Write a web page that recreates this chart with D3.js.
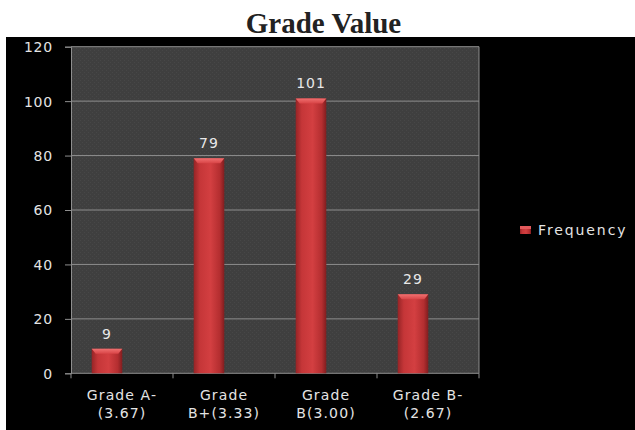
<!DOCTYPE html>
<html>
<head>
<meta charset="utf-8">
<script src="https://cdn.jsdelivr.net/npm/d3@7"></script>
<style>
  body { margin: 0; background: #fff; }
  svg text { font-family: "DejaVu Sans", Verdana, sans-serif; }
</style>
</head>
<body>
<div id="chart"></div>
<script>
// data
const categories = [["Grade A-", "(3.67)"], ["Grade", "B+(3.33)"], ["Grade", "B(3.00)"], ["Grade B-", "(2.67)"]];
const frequency = [9, 79, 101, 29];
const yTicks = [0, 20, 40, 60, 80, 100, 120];
const seriesName = "Frequency";

const width = 635, height = 430;
const margin = { top: 46.7, left: 71, right: 479, bottom: 373.3 };

const svg = d3.select("#chart").append("svg")
    .attr("width", width)
    .attr("height", height);

const defs = svg.append("defs");

// texture of the plot area
const pat = defs.append("pattern")
    .attr("id", "tex").attr("width", 4).attr("height", 4)
    .attr("patternUnits", "userSpaceOnUse");
pat.append("rect").attr("width", 4).attr("height", 4).attr("fill", "#3f3f3f");
pat.append("rect").attr("x", 0).attr("y", 0).attr("width", 1).attr("height", 1).attr("fill", "#474747");
pat.append("rect").attr("x", 2).attr("y", 2).attr("width", 1).attr("height", 1).attr("fill", "#474747");

// bar gradient
const grad = defs.append("linearGradient").attr("id", "barGrad")
    .attr("x1", "0%").attr("x2", "100%").attr("y1", "0%").attr("y2", "0%");
grad.append("stop").attr("offset", "0%").attr("stop-color", "#962426");
grad.append("stop").attr("offset", "20%").attr("stop-color", "#c53638");
grad.append("stop").attr("offset", "55%").attr("stop-color", "#d33f41");
grad.append("stop").attr("offset", "85%").attr("stop-color", "#b42e30");
grad.append("stop").attr("offset", "100%").attr("stop-color", "#801d1f");

const capGrad = defs.append("linearGradient").attr("id", "capGrad")
    .attr("x1", "0%").attr("x2", "0%").attr("y1", "0%").attr("y2", "100%");
capGrad.append("stop").attr("offset", "0%").attr("stop-color", "#f07070");
capGrad.append("stop").attr("offset", "100%").attr("stop-color", "#d84446");

// title
svg.append("text")
    .attr("x", 323.5).attr("y", 33)
    .attr("text-anchor", "middle")
    .style("font-family", "'Liberation Serif', 'Times New Roman', serif")
    .style("font-weight", "bold")
    .style("font-size", "29px")
    .attr("fill", "#222")
    .text("Grade Value");

// black chart background
svg.append("rect")
    .attr("x", 6).attr("y", 37)
    .attr("width", width - 6).attr("height", height - 37)
    .attr("fill", "#000");

// scales
const x = d3.scaleBand()
    .domain(d3.range(categories.length))
    .range([margin.left, margin.right])
    .paddingInner(0.7).paddingOuter(0.35);

const y = d3.scaleLinear()
    .domain([0, 120])
    .range([margin.bottom, margin.top]);

// plot area
svg.append("rect")
    .attr("x", margin.left).attr("y", margin.top)
    .attr("width", margin.right - margin.left)
    .attr("height", margin.bottom - margin.top)
    .attr("fill", "url(#tex)");

// gridlines
svg.append("g")
    .selectAll("line")
    .data(yTicks.filter(d => d > 0))
    .join("line")
    .attr("x1", margin.left).attr("x2", margin.right)
    .attr("y1", d => y(d)).attr("y2", d => y(d))
    .attr("stroke", "#8e8e8e").attr("stroke-width", 1);

// right border
svg.append("line")
    .attr("x1", margin.right).attr("x2", margin.right)
    .attr("y1", margin.top).attr("y2", margin.bottom)
    .attr("stroke", "#8e8e8e");

// y axis
const yAxis = svg.append("g")
    .attr("transform", `translate(${margin.left},0)`)
    .call(d3.axisLeft(y).tickValues(yTicks).tickSize(6).tickPadding(12));
yAxis.select(".domain").attr("stroke", "#8e8e8e");
yAxis.selectAll(".tick line").attr("stroke", "#8e8e8e");
yAxis.selectAll("text")
    .attr("fill", "#e4e4e4")
    .style("font-size", "14px")
    .style("letter-spacing", "0.8px")
    .attr("dy", "0.35em");

// x axis
const xStep = (margin.right - margin.left) / categories.length;
const xAxisG = svg.append("g");
xAxisG.append("line")
    .attr("x1", margin.left).attr("x2", margin.right)
    .attr("y1", margin.bottom).attr("y2", margin.bottom)
    .attr("stroke", "#8e8e8e");
xAxisG.selectAll("line.tk")
    .data(d3.range(categories.length + 1))
    .join("line").attr("class", "tk")
    .attr("x1", d => margin.left + d * xStep).attr("x2", d => margin.left + d * xStep)
    .attr("y1", margin.bottom).attr("y2", margin.bottom + 5)
    .attr("stroke", "#8e8e8e");

const labels = xAxisG.selectAll("text")
    .data(categories)
    .join("text")
    .attr("x", (d, i) => x(i) + x.bandwidth() / 2)
    .attr("y", 400)
    .attr("text-anchor", "middle")
    .attr("fill", "#e4e4e4")
    .style("font-size", "14px")
    .style("letter-spacing", "1.1px");
labels.append("tspan")
    .attr("x", (d, i) => x(i) + x.bandwidth() / 2)
    .text(d => d[0]);
labels.append("tspan")
    .attr("x", (d, i) => x(i) + x.bandwidth() / 2)
    .attr("dy", 18)
    .text(d => d[1]);

// bars (3d depth shift to the left)
const depth = 15;
const bars = svg.append("g");
bars.selectAll("rect.bar")
    .data(frequency)
    .join("rect").attr("class", "bar")
    .attr("x", (d, i) => x(i) - depth)
    .attr("y", d => y(d))
    .attr("width", x.bandwidth())
    .attr("height", d => y(0) - y(d))
    .attr("fill", "url(#barGrad)");

// top bevel
bars.selectAll("path.cap")
    .data(frequency)
    .join("path").attr("class", "cap")
    .attr("d", (d, i) => {
        const x0 = x(i) - depth, w = x.bandwidth(), t = y(d);
        return `M${x0},${t} L${x0 + w},${t} L${x0 + w - 4},${t + 5} L${x0 + 4},${t + 5} Z`;
    })
    .attr("fill", "url(#capGrad)");

// value labels
svg.append("g").selectAll("text")
    .data(frequency)
    .join("text")
    .attr("x", (d, i) => x(i) - depth + x.bandwidth() / 2)
    .attr("y", d => y(d) - 10)
    .attr("text-anchor", "middle")
    .attr("fill", "#e8e8e8")
    .style("font-size", "14px")
    .style("letter-spacing", "1px")
    .text(d => d);

// legend
const legend = svg.append("g");
legend.append("rect")
    .attr("x", 520).attr("y", 226)
    .attr("width", 11).attr("height", 8)
    .attr("fill", "url(#barGrad)");
legend.append("rect")
    .attr("x", 520).attr("y", 226)
    .attr("width", 11).attr("height", 3)
    .attr("fill", "#e25a5c");
legend.append("text")
    .attr("x", 538).attr("y", 235)
    .attr("fill", "#e4e4e4")
    .style("font-size", "14px")
    .style("letter-spacing", "1.9px")
    .text(seriesName);
</script>
</body>
</html>
